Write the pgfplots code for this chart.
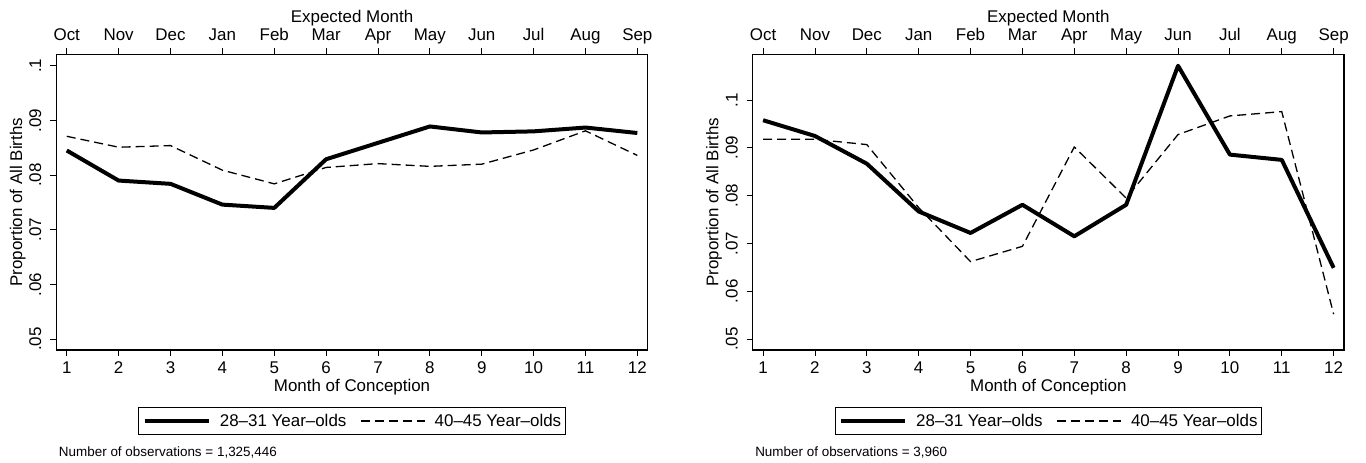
\documentclass[border=0pt]{standalone}
\usepackage{fontspec}
\setmainfont{Liberation Sans}
\usepackage{pgfplots}
\pgfplotsset{compat=1.18}

\pgfplotstableread{
x young old
1  0.0845 0.0871
2  0.0790 0.0851
3  0.0784 0.0854
4  0.0746 0.0809
5  0.0740 0.0784
6  0.0829 0.0814
7  0.0859 0.0821
8  0.0889 0.0816
9  0.0878 0.0820
10 0.0880 0.0846
11 0.0887 0.0881
12 0.0877 0.0836
}\leftdata

\pgfplotstableread{
x young old
1  0.0958 0.0918
2  0.0925 0.0918
3  0.0867 0.0907
4  0.0767 0.0775
5  0.0722 0.0662
6  0.0781 0.0694
7  0.0715 0.0902
8  0.0781 0.0795
9  0.1072 0.0928
10 0.0886 0.0967
11 0.0875 0.0976
12 0.0649 0.0552
}\rightdata

\newcommand{\bigfont}{\fontsize{17}{20}\selectfont}
\newcommand{\smallfont}{\fontsize{13.5}{16}\selectfont}

\pgfplotsset{
  panel/.style={
    width=591.3bp, height=295.7bp, scale only axis,
    xmin=0.8, xmax=12.2,
    axis line style={line width=1.2bp, black},
    tick style={line width=0.9bp, black},
    major tick length=6bp,
    tick align=outside,
    font=\bigfont,
  },
  mainpanel/.style={
    panel,
    clip mode=individual,
    xtick pos=left, ytick pos=left,
    xtick={1,2,3,4,5,6,7,8,9,10,11,12},
    xticklabels={1,2,3,4,5,6,7,8,9,10,11,12},
    ytick={0.05,0.06,0.07,0.08,0.09,0.1},
    yticklabels={.05,.06,.07,.08,.09,.1},
    xticklabel style={anchor=north, inner sep=0pt, text height=12bp, text depth=0bp},
    xticklabel shift=5bp,
    yticklabel style={rotate=90, anchor=south, inner sep=0pt, text height=12bp, text depth=0bp},
    yticklabel shift=9bp,
    xlabel={Month of Conception},
    xlabel style={at={(axis description cs:0.5,-0.125)}, anchor=center},
    ylabel={Proportion of All Births},
    ylabel style={at={(axis description cs:-0.0655,0.5)}, anchor=center},
    legend style={at={(axis description cs:0.5,-0.1917)}, anchor=north,
      legend columns=2, draw=black, line width=0.9bp, inner xsep=4bp, inner ysep=2bp,
      font=\bigfont,
      nodes={inner xsep=0bp, inner ysep=5bp},
      /tikz/every odd column/.append style={column sep=9bp},
      /tikz/every even column/.append style={column sep=14bp}},
    legend image code/.code={\draw[##1] (0bp,0bp) -- (64bp,0bp);},
  },
  toppanel/.style={
    panel,
    axis x line*=top, axis y line=none,
    ymin=0, ymax=1,
    xtick={1,2,3,4,5,6,7,8,9,10,11,12},
    xticklabels={Oct,Nov,Dec,Jan,Feb,Mar,Apr,May,Jun,Jul,Aug,Sep},
    xticklabel style={anchor=south, inner sep=0pt, text height=12.2bp, text depth=3.6bp},
    xticklabel shift=4bp,
    xlabel={Expected Month},
    xlabel style={at={(axis description cs:0.5,1.124)}, anchor=center},
  },
  solidline/.style={black, line width=4bp, line join=round},
  dashline/.style={black, line width=1.3bp, dash pattern=on 9bp off 5bp},
}

\begin{document}
\begin{tikzpicture}
\path[use as bounding box] (0bp,0bp) rectangle (1366bp,-463bp);

% Left panel
\begin{axis}[mainpanel, at={(56.4bp,-54.3bp)}, anchor=north west, ymin=0.048, ymax=0.1021]
\addplot[solidline] table[x=x, y=young] {\leftdata};
\addlegendentry{28--31 Year--olds}
\addplot[dashline] table[x=x, y=old] {\leftdata};
\addlegendentry{40--45 Year--olds}
\node[anchor=base west, font=\smallfont, inner sep=0pt] at (axis description cs:0.004,-0.3585) {Number of observations = 1,325,446};
\end{axis}
\begin{axis}[toppanel, at={(56.4bp,-54.3bp)}, anchor=north west]
\end{axis}

% Right panel
\begin{axis}[mainpanel, at={(752.7bp,-54.3bp)}, anchor=north west, ymin=0.0477, ymax=0.1096]
\addplot[solidline] table[x=x, y=young] {\rightdata};
\addlegendentry{28--31 Year--olds}
\addplot[dashline] table[x=x, y=old] {\rightdata};
\addlegendentry{40--45 Year--olds}
\node[anchor=base west, font=\smallfont, inner sep=0pt] at (axis description cs:0.004,-0.3585) {Number of observations = 3,960};
\end{axis}
\begin{axis}[toppanel, at={(752.7bp,-54.3bp)}, anchor=north west]
\end{axis}
\end{tikzpicture}
\end{document}
